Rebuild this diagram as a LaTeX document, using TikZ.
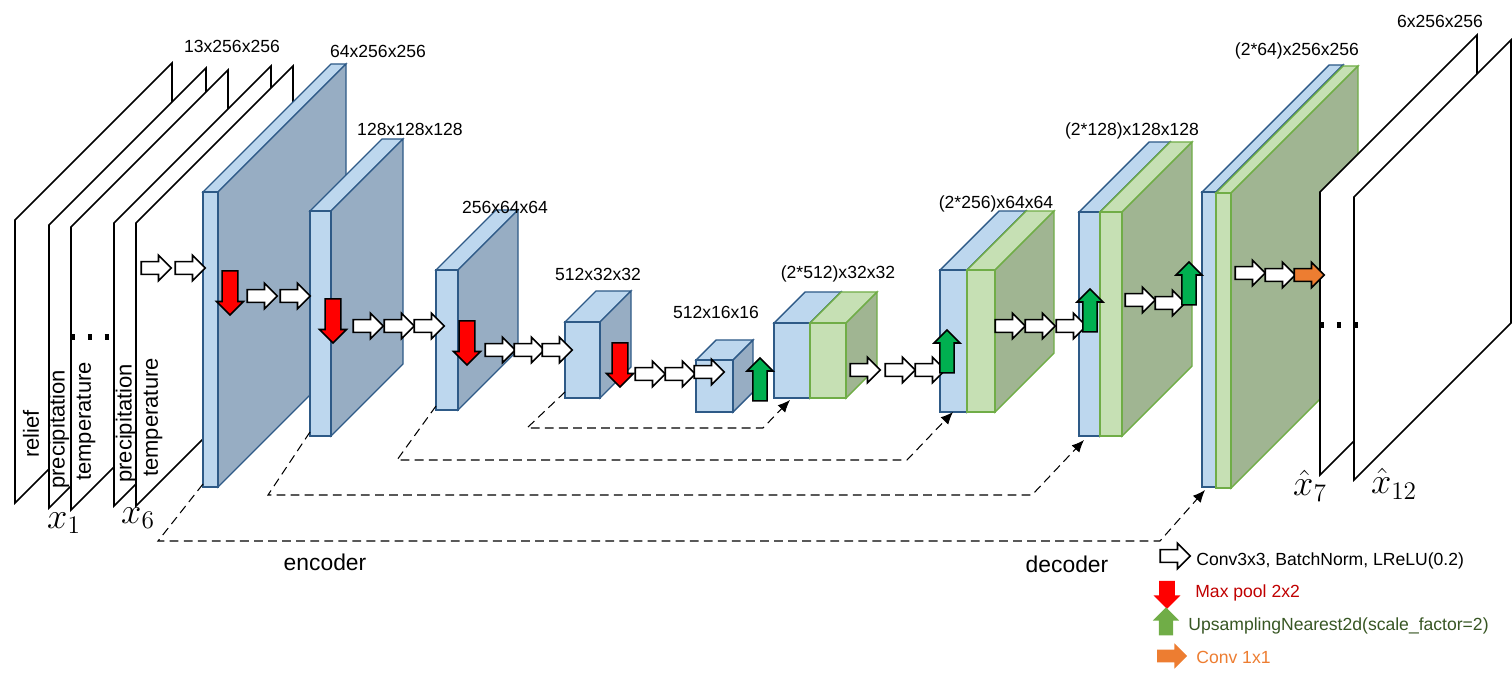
\documentclass[tikz,border=0pt]{standalone}
\usepackage{fontspec}
\setmainfont{Liberation Sans}
\usetikzlibrary{shapes.arrows,arrows.meta}

\definecolor{encfront}{HTML}{BDD7EE}
\definecolor{encside}{HTML}{97ADC3}
\definecolor{encline}{HTML}{2E5A87}
\definecolor{decfront}{HTML}{C6E0B4}
\definecolor{decside}{HTML}{A0B592}
\definecolor{decline}{HTML}{70AD47}
\definecolor{upgreen}{HTML}{00B050}
\definecolor{orng}{HTML}{ED7D31}

% cube: x, top y, width, height, depth, front, side, line
\newcommand{\cube}[8]{%
  \filldraw[fill=#6, draw=#8, line width=0.8pt]
    (#1,#2) -- ({#1+#5},{#2-#5}) -- ({#1+#3+#5},{#2-#5}) -- ({#1+#3},#2) -- cycle;
  \filldraw[fill=#7, draw=#8, line width=0.8pt]
    ({#1+#3},#2) -- ({#1+#3+#5},{#2-#5}) -- ({#1+#3+#5},{#2+#4-#5}) -- ({#1+#3},{#2+#4}) -- cycle;
  \filldraw[fill=#6, draw=#8, line width=0.8pt] (#1,#2) rectangle ({#1+#3},{#2+#4});
}
% plane: x, top y, height, depth
\newcommand{\plane}[4]{%
  \filldraw[fill=white, draw=black, line width=0.9pt]
    (#1,{#2+#3}) -- (#1,#2) -- ({#1+#4},{#2-#4}) -- ({#1+#4},{#2+#3-#4}) -- cycle;
}

\begin{document}
\begin{tikzpicture}[
  x=0.02cm, y=-0.02cm,
  conv/.style={shape=single arrow, draw=black, fill=white, line width=0.9pt,
    single arrow head extend=3.6pt, inner sep=3.2pt, minimum height=0.6cm},
  pool/.style={shape=single arrow, draw=black, fill=red, line width=0.9pt, rotate=-90,
    single arrow head extend=3.2pt, inner sep=4pt, minimum height=0.88cm},
  up/.style={shape=single arrow, draw=black, fill=upgreen, line width=0.9pt, rotate=90,
    single arrow head extend=3.4pt, inner sep=3.6pt, minimum height=0.86cm},
  one/.style={shape=single arrow, draw=black, fill=orng, line width=0.9pt,
    single arrow head extend=3.6pt, inner sep=3.2pt, minimum height=0.6cm},
  key/.style={minimum height=0.56cm, draw=none},
  dim/.style={font=\fontsize{10}{12}\selectfont, inner sep=0pt},
  chan/.style={rotate=90, anchor=west, font=\fontsize{12.5}{14}\selectfont, inner sep=0pt},
  skip/.style={draw=black, dash pattern=on 5pt off 3pt, line width=0.6pt, -{Latex[length=7pt,width=6pt]}},
  dots/.style={line width=3pt, dash pattern=on 2.5pt off 7.1pt},
]
\useasboundingbox (0,0) rectangle (1512,682);

% inputs
\plane{15}{220}{283}{157}
\node[chan] (t1) at (31,458) {relief};
\plane{49}{225}{283}{157}
\node[chan] (t2) at (59,489) {precipitation};
\plane{71}{227}{283}{157}
\node[chan] (t3) at (86,481) {temperature};
\plane{114}{223}{283}{157}
\node[chan] (t4) at (126,483) {precipitation};
\plane{136}{223}{283}{157}
\node[chan] (t5) at (153,477) {temperature};
\draw[dots] (71,337) -- (110,337);
\node (x1) at (64,523) {\fontsize{22}{24}\selectfont$x_1$};
\node (x6) at (138,518) {\fontsize{22}{24}\selectfont$x_6$};

% encoder
\cube{203}{192}{15}{295}{128}{encfront}{encside}{encline}
\cube{310}{211}{21}{225}{72}{encfront}{encside}{encline}
\cube{436}{270}{22}{140}{60}{encfront}{encside}{encline}
\cube{565}{322}{35}{76}{31}{encfront}{encside}{encline}
\cube{696}{360}{37}{52}{20}{encfront}{encside}{encline}

% decoder
\cube{774}{323}{36}{75}{31}{encfront}{encside}{encline}
\cube{810}{323}{36}{75}{31}{decfront}{decside}{decline}
\cube{940}{270}{27}{142}{59}{encfront}{encside}{encline}
\cube{967}{270}{28}{142}{59}{decfront}{decside}{decline}
\cube{1079}{212}{21}{224}{70}{encfront}{encside}{encline}
\cube{1100}{212}{22}{224}{70}{decfront}{decside}{decline}
\cube{1202}{192}{14}{295}{127}{encfront}{encside}{encline}
\cube{1216}{193}{15}{295}{127}{decfront}{decside}{decline}

% outputs
\plane{1320}{192}{283}{157}
\plane{1354}{197}{283}{157}
\draw[dots] (1320,325) -- (1358,325);
\node (y7) at (1310,486) {\fontsize{22}{24}\selectfont$\hat{x}_7$};
\node (y12) at (1394,484) {\fontsize{22}{24}\selectfont$\hat{x}_{12}$};

% sizes
\node[dim] (s0) at (232,46) {13x256x256};
\node[dim] (s1) at (378,51) {64x256x256};
\node[dim] (s2) at (410,129) {128x128x128};
\node[dim] (s3) at (505,207) {256x64x64};
\node[dim] (s4) at (598,274) {512x32x32};
\node[dim] (s5) at (716,312) {512x16x16};
\node[dim] (s6) at (838,274) {(2*512)x32x32};
\node[dim] (s7) at (996,204) {(2*256)x64x64};
\node[dim] (s8) at (1132,131) {(2*128)x128x128};
\node[dim] (s9) at (1297,51) {(2*64)x256x256};
\node[dim] (s10) at (1440,21) {6x256x256};

% operations
\node[conv] (c1) at (153,268) {};
\node[conv] (c2) at (187,268) {};
\node[pool] (p1) at (230,289) {};
\node[conv] (c3) at (259,296) {};
\node[conv] (c4) at (292,296) {};
\node[pool] (p2) at (333,317) {};
\node[conv] (c5) at (365,326) {};
\node[conv] (c6) at (396,326) {};
\node[conv] (c7) at (426,326) {};
\node[pool] (p3) at (467,339) {};
\node[conv] (c8) at (497,350) {};
\node[conv] (c9) at (526,350) {};
\node[conv] (c10) at (554,350) {};
\node[pool] (p4) at (620,361) {};
\node[conv] (c11) at (647,374) {};
\node[conv] (c12) at (677,374) {};
\node[conv] (c13) at (706,372) {};
\node[up] (u1) at (760,383) {};
\node[conv] (c14) at (862,370) {};
\node[conv] (c15) at (897,370) {};
\node[conv] (c16) at (927,370) {};
\node[up] (u2) at (947,355) {};
\node[conv] (c17) at (1007,326) {};
\node[conv] (c18) at (1037,326) {};
\node[conv] (c19) at (1068,326) {};
\node[up] (u3) at (1090,314) {};
\node[conv] (c20) at (1137,300) {};
\node[conv] (c21) at (1167,303) {};
\node[up] (u4) at (1189,287) {};
\node[conv] (c22) at (1247,273) {};
\node[conv] (c23) at (1277,275) {};
\node[one] (o1) at (1306,275) {};

% skip connections
\coordinate (a1) at (565,392);
\coordinate (b1) at (790,400);
\coordinate (a2) at (436,406);
\coordinate (b2) at (953,412);
\coordinate (a3) at (310,432);
\coordinate (b3) at (1084,440);
\coordinate (a4) at (203,484);
\coordinate (b4) at (1205,490);
\draw[skip] (a1) -- (527,428) -- (763,428) -- (b1);
\draw[skip] (a2) -- (397,460) -- (907,460) -- (b2);
\draw[skip] (a3) -- (268,495) -- (1032,495) -- (b3);
\draw[skip] (a4) -- (158,541) -- (1160,541) -- (b4);

\node[font=\fontsize{13}{15}\selectfont] (enc) at (325,562) {encoder};
\node[font=\fontsize{13}{15}\selectfont] (dec) at (1067,564) {decoder};

% legend
\node[conv] (l1) at (1172,556) {};
\node[dim, anchor=west] (lt1) at (1196,561) {Conv3x3, BatchNorm, LReLU(0.2)};
\node[pool, key, fill=red] (l2) at (1167,591) {};
\node[dim, anchor=west, text={rgb,255:red,192;green,0;blue,0}] (lt2) at (1195,593) {Max pool 2x2};
\node[up, key, fill=decline] (l3) at (1166,625) {};
\node[dim, anchor=west, text={rgb,255:red,55;green,86;blue,35}] (lt3) at (1188,626) {UpsamplingNearest2d(scale\_factor=2)};
\node[one, draw=none] (l4) at (1169,656) {};
\node[dim, anchor=west, text=orng] (lt4) at (1196,657) {Conv 1x1};
\end{tikzpicture}
\end{document}
